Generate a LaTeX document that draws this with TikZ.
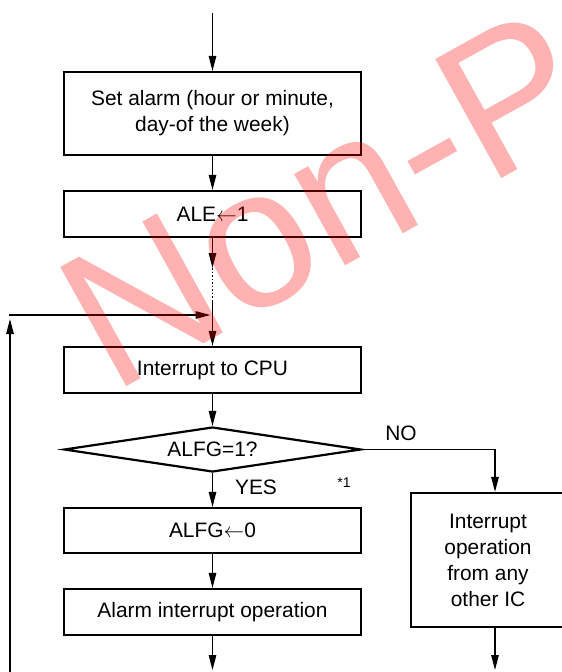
\documentclass[tikz,border=0pt]{standalone}
\usepackage{fontspec}
\setmainfont{Liberation Sans}
\usepackage{xcolor}
\usepackage{tikz}
\usetikzlibrary{positioning, arrows.meta, shapes.geometric}
\definecolor{stampred}{HTML}{FF0000}

\begin{document}
\begin{tikzpicture}[x=1pt, y=-1pt,
    box/.style={draw, line width=2.2pt, minimum width=297pt, inner sep=0pt,
                align=center, font=\fontsize{20.9}{26}\selectfont},
    flow/.style={line width=1.3pt, -{Triangle[length=15pt, width=7.5pt]}},
    lbl/.style={inner sep=0pt, font=\fontsize{20.9}{26}\selectfont}]
    \useasboundingbox (0,0) rectangle (562,672);

    % main column
    \node[box, minimum height=83pt] (setalarm) at (212.5,113.5)
      {Set alarm (hour or minute,\\day-of the week)};
    \node[box, minimum height=46pt] (aleset) at (212.5,214) {ALE$\leftarrow$1};
    \node[box, minimum height=46pt] (cpuint) at (212.5,370) {Interrupt to CPU};
    \node[box, diamond, shape aspect=6.6, minimum height=45pt] (alfgtest) at (212.5,449.5) {ALFG=1?};
    \node[box, minimum height=45pt] (alfgclr) at (212.5,530.5) {ALFG$\leftarrow$0};
    \node[box, minimum height=46pt] (alarmop) at (212.5,612) {Alarm interrupt operation};

    % other interrupt
    \node[box, minimum width=154pt, minimum height=134pt] (otherop) at (488,560)
      {Interrupt\\operation\\from any\\other IC};

    \node[lbl] (yes) at (256,487) {YES};
    \node[lbl] (no) at (401,433) {NO};
    \node[inner sep=0pt, font=\fontsize{14}{16}\selectfont] (note) at (344,483) {*1};

    \coordinate (start) at (212.5,13);
    \coordinate (tipA) at (212.5,268);
    \coordinate (dotB) at (212.5,300);
    \coordinate (join) at (210.5,315);
    \coordinate (loopbot) at (10,672);
    \coordinate (looptip) at (10,319);
    \coordinate (looptop) at (9.35,315);
    \coordinate (endA) at (212.5,670);
    \coordinate (endB) at (495,670);

    \draw[flow] (start) -- (setalarm.north);
    \draw[flow] (setalarm.south) -- (aleset.north);
    \draw[flow] (aleset.south) -- (tipA);
    \draw[line width=0.8pt, dash pattern=on 1.5pt off 2pt] (tipA) -- (dotB);
    \draw[flow] (dotB) -- (cpuint.north);
    \draw[flow] (loopbot) -- (looptip);
    \draw[flow] (looptop) -- (join);
    \draw[flow] (cpuint.south) -- (alfgtest.north);
    \draw[flow] (alfgtest.south) -- (alfgclr.north);
    \draw[flow] (alfgclr.south) -- (alarmop.north);
    \draw[flow] (alarmop.south) -- (endA);
    \draw[flow] (alfgtest.east) -| ([xshift=7pt]otherop.north);
    \draw[flow] ([xshift=7pt]otherop.south) -- (endB);

    % watermark
    \node[text=stampred, text opacity=0.3, rotate=29, anchor=base west, inner sep=0pt,
          font=\fontsize{198}{198}\selectfont] (stamp) at (112,395) {Non-P};
\end{tikzpicture}
\end{document}
